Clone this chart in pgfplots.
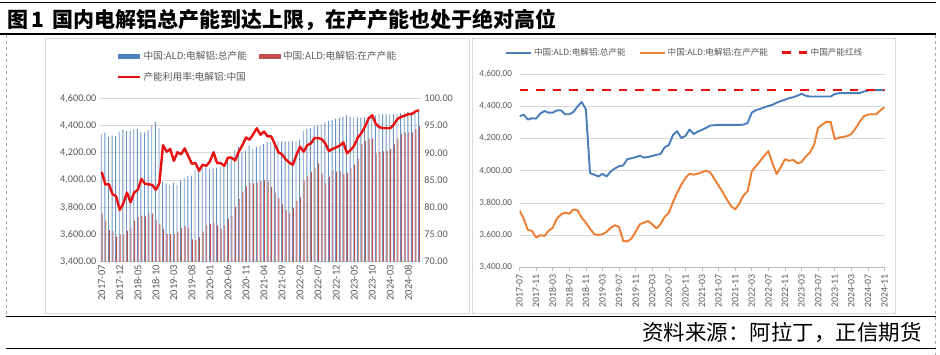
\documentclass[border=0pt]{standalone}
\usepackage{fontspec}
\setmainfont{Carlito}
\newfontfamily\cjk{Noto Sans CJK SC}
\usepackage{pgfplots}
\usepackage{pgfplotstable}
\pgfplotsset{compat=1.18}
\definecolor{barblue}{HTML}{4F81BD}
\definecolor{barred}{HTML}{C0504D}
\definecolor{lineblue}{HTML}{4A7EBB}
\definecolor{lineorange}{HTML}{ED7D31}
\definecolor{linered}{HTML}{E81010}
\definecolor{gridgray}{RGB}{217,217,217}
\definecolor{txtgray}{RGB}{89,89,89}
\definecolor{axgray}{RGB}{191,191,191}

\pgfplotstableread{
m tot op util
0 4337 3753 86.5
1 4348 3702 84.2
2 4317 3632 84.2
3 4325 3626 82.4
4 4323 3585 82.0
5 4354 3599 79.5
6 4370 3595 80.7
7 4360 3626 82.7
8 4360 3646 80.9
9 4374 3702 82.7
10 4374 3728 83.2
11 4350 3739 85.2
12 4350 3733 84.3
13 4364 3759 84.2
14 4399 3753 84.1
15 4426 3708 83.2
16 4380 3677 84.4
17 3985 3640 91.4
18 3975 3605 90.2
19 3964 3601 90.7
20 3980 3605 88.5
21 3964 3620 90.1
22 3995 3646 89.7
23 4013 3661 90.8
24 4028 3651 89.4
25 4032 3564 88.0
26 4071 3560 88.1
27 4077 3579 86.7
28 4083 3620 87.8
29 4093 3667 87.6
30 4081 3677 88.4
31 4085 3687 90.1
32 4091 3667 88.1
33 4098 3642 88.1
34 4104 3667 87.6
35 4145 3714 89.1
36 4159 3739 89.1
37 4221 3804 88.6
38 4245 3862 90.2
39 4202 3913 91.4
40 4216 3954 92.8
41 4255 3981 92.4
42 4227 3975 93.4
43 4243 3981 94.5
44 4253 3991 93.3
45 4266 3999 93.9
46 4280 3989 93.0
47 4282 3948 93.0
48 4284 3907 91.6
49 4284 3866 90.1
50 4284 3821 89.7
51 4284 3780 88.8
52 4284 3760 88.2
53 4284 3796 87.8
54 4286 3846 89.6
55 4296 3872 91.1
56 4360 3995 90.2
57 4376 4028 91.4
58 4383 4059 91.7
59 4393 4091 92.7
60 4401 4122 92.7
61 4409 4046 92.5
62 4422 3979 91.7
63 4432 4022 90.3
64 4440 4071 90.7
65 4450 4061 91.0
66 4456 4067 91.3
67 4465 4046 91.9
68 4477 4053 89.9
69 4465 4087 90.5
70 4460 4112 91.3
71 4460 4159 92.8
72 4460 4266 93.6
73 4460 4286 94.8
74 4460 4303 96.3
75 4460 4303 96.9
76 4475 4196 95.3
77 4481 4204 94.7
78 4481 4210 94.5
79 4481 4214 94.5
80 4481 4227 94.5
81 4481 4262 95.2
82 4481 4303 96.2
83 4491 4337 96.6
84 4497 4348 96.8
85 4500 4350 97.1
86 4500 4350 97.1
87 4500 4374 97.6
88 4500 4393 97.8
}\data

\begin{document}
\begin{tikzpicture}
\useasboundingbox (0pt,0pt) rectangle (940pt,355pt);
% frame
\draw[black, line width=0.8pt] (0pt,352.5pt) -- (936pt,352.5pt);
\node[anchor=west, inner sep=0pt] at (7pt,335pt) {\cjk\bfseries\fontsize{21}{25}\selectfont 图\hspace{3pt}1\hspace{9pt}国内电解铝总产能到达上限，在产产能也处于绝对高位};
\draw[black, line width=1.6pt] (0pt,321pt) -- (936pt,321pt);
\draw[gray!70, dashed, line width=0.6pt] (6pt,320pt) -- (6pt,39pt);
\draw[gray!70, dashed, line width=0.6pt] (935pt,320pt) -- (935pt,0pt);
\draw[gridgray, line width=0.8pt] (45pt,42pt) rectangle (469pt,317pt);
\draw[gridgray, line width=0.8pt] (472pt,42pt) rectangle (895pt,317pt);
\draw[black, line width=1.6pt] (6pt,38.5pt) -- (936pt,38.5pt);
\node[anchor=east, inner sep=0pt] at (922pt,22.5pt) {\cjk\fontsize{21.5}{25}\selectfont 资料来源：阿拉丁，正信期货};
\draw[black, line width=1.2pt] (6pt,6.5pt) -- (936pt,6.5pt);

% ---------- left chart: bars ----------
\begin{axis}[
  at={(99.9pt,93.3pt)}, anchor=south west, scale only axis,
  width=321pt, height=163.4pt,
  xmin=-0.5, xmax=88.5, ymin=3400, ymax=4600,
  axis x line*=bottom, axis y line*=left,
  x axis line style={axgray, line width=0.6pt},
  y axis line style={draw=none},
  major tick length=0pt,
  ytick={3400,3600,...,4600},
  ymajorgrids, grid style={gridgray, line width=0.6pt},
  yticklabel style={font=\fontsize{10.2}{12}\selectfont, text=txtgray, /pgf/number format/.cd, fixed, fixed zerofill, precision=2, 1000 sep={,}, assume math mode=true},
  scaled y ticks=false,
  xtick={0,5,...,85},
  xticklabels={2017-07,2017-12,2018-05,2018-10,2019-03,2019-08,2020-01,2020-06,2020-11,2021-04,2021-09,2022-02,2022-07,2022-12,2023-05,2023-10,2024-03,2024-08},
  xticklabel style={rotate=90, anchor=east, font=\fontsize{10.5}{12}\selectfont, text=txtgray},
  legend columns=2,
  legend cell align=left,
  legend style={at={(0.053,1.30)}, anchor=north west, draw=none, fill=none, inner sep=0pt,
     font=\cjk\fontsize{9.7}{11.6}\selectfont, text=txtgray,
     /tikz/every even column/.append style={column sep=10pt},
     row sep=7pt},
]
\addplot[ybar, bar width=0.9pt, bar shift=-0.45pt, fill=barblue!85!white, draw=none,
  legend image code/.code={\fill[barblue] (0pt,-2.8pt) rectangle (22pt,2.8pt);}]
  table[x=m, y=tot]{\data};
\addlegendentry{中国:ALD:电解铝:总产能}
\addplot[ybar, bar width=0.9pt, bar shift=0.45pt, fill=barred, draw=none,
  legend image code/.code={\fill[barred] (0pt,-2.8pt) rectangle (22pt,2.8pt);}]
  table[x=m, y=op]{\data};
\addlegendentry{中国:ALD:电解铝:在产产能}
\addlegendimage{linered, line width=2.4pt, legend image code/.code={\draw[linered, line width=2.4pt] (0pt,0pt) -- (22pt,0pt);}}
\addlegendentry{产能利用率:电解铝:中国}
\end{axis}

% ---------- left chart: utilisation line ----------
\begin{axis}[
  at={(99.9pt,93.3pt)}, anchor=south west, scale only axis,
  width=321pt, height=163.4pt,
  xmin=-0.5, xmax=88.5, ymin=70, ymax=100,
  axis y line*=right, axis x line=none,
  y axis line style={draw=none},
  major tick length=0pt,
  ytick={70,75,...,100},
  yticklabel style={font=\fontsize{10.2}{12}\selectfont, text=txtgray, /pgf/number format/.cd, fixed, fixed zerofill, precision=2, assume math mode=true},
]
\addplot[linered, line width=2.4pt, line join=round] table[x=m, y=util]{\data};
\end{axis}

% ---------- right chart ----------
\begin{axis}[
  at={(519.5pt,87.7pt)}, anchor=south west, scale only axis,
  width=365pt, height=193.3pt,
  xmin=0, xmax=88, ymin=3400, ymax=4600,
  axis x line*=bottom, axis y line*=left,
  x axis line style={axgray, line width=0.6pt},
  y axis line style={draw=none},
  ytick={3400,3600,...,4600},
  ytick style={draw=none},
  xtick style={axgray, line width=0.6pt},
  tick align=outside,
  major tick length=4pt,
  ymajorgrids, grid style={gridgray, line width=0.6pt},
  yticklabel style={font=\fontsize{9.2}{11}\selectfont, text=txtgray, /pgf/number format/.cd, fixed, fixed zerofill, precision=2, 1000 sep={,}, assume math mode=true},
  scaled y ticks=false,
  xtick={0,4,...,88},
  xticklabels={2017-07,2017-11,2018-03,2018-07,2018-11,2019-03,2019-07,2019-11,2020-03,2020-07,2020-11,2021-03,2021-07,2021-11,2022-03,2022-07,2022-11,2023-03,2023-07,2023-11,2024-03,2024-07,2024-11},
  xticklabel style={rotate=90, anchor=east, font=\fontsize{9.8}{11}\selectfont, text=txtgray},
  legend columns=3,
  legend style={at={(-0.04,1.11)}, anchor=west, draw=none, fill=none, inner sep=0pt,
     font=\cjk\fontsize{8.6}{10}\selectfont, text=txtgray,
     /tikz/every even column/.append style={column sep=11pt}},
]
\addplot[lineblue, line width=1.9pt, line join=round,
  legend image code/.code={\draw[lineblue, line width=1.9pt] (0pt,0pt) -- (25pt,0pt);}]
  table[x=m, y=tot]{\data};
\addlegendentry{中国:ALD:电解铝:总产能}
\addplot[lineorange, line width=1.9pt, line join=round,
  legend image code/.code={\draw[lineorange, line width=1.9pt] (0pt,0pt) -- (25pt,0pt);}]
  table[x=m, y=op]{\data};
\addlegendentry{中国:ALD:电解铝:在产产能}
\addplot[linered, line width=2.6pt, dash pattern=on 8.5pt off 8pt,
  legend image code/.code={\draw[linered, line width=2.6pt, dash pattern=on 8.5pt off 8pt] (0pt,0pt) -- (25pt,0pt);}]
  coordinates {(0,4500) (88,4500)};
\addlegendentry{中国产能红线}
\end{axis}
\end{tikzpicture}
\end{document}
